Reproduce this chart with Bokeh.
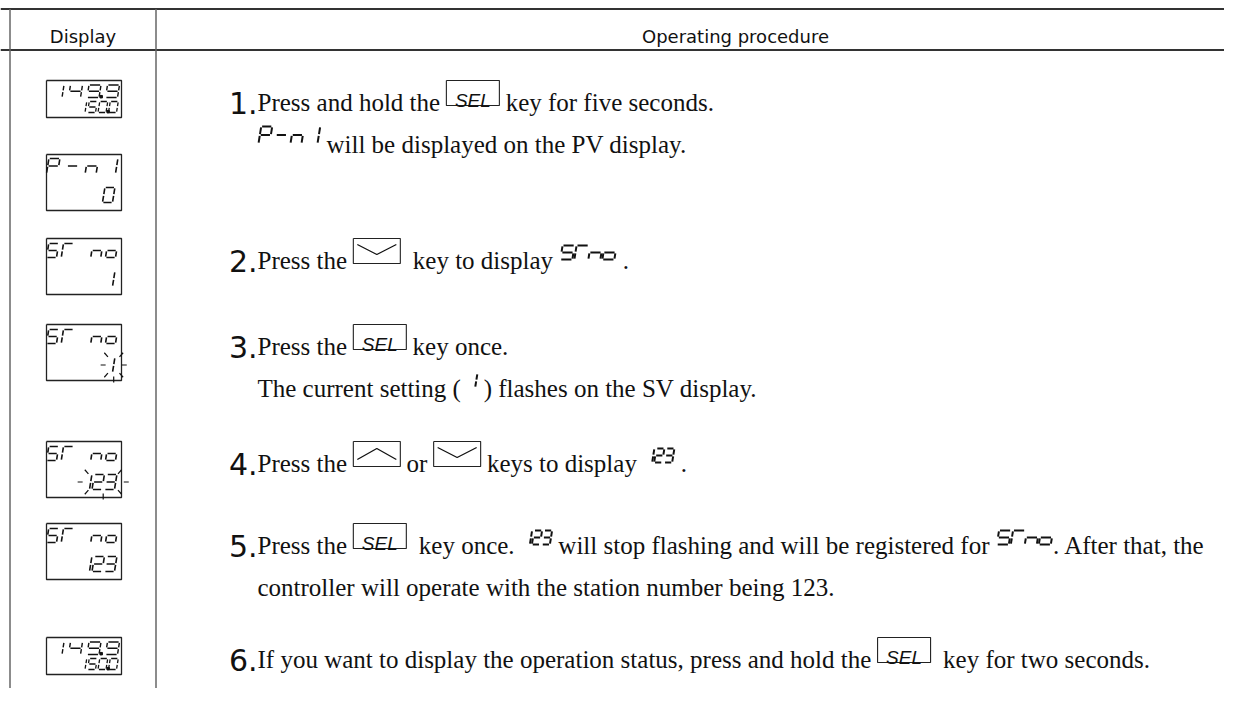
import re
from bokeh.plotting import figure
from bokeh.models import Range1d
from bokeh.embed import file_html
from bokeh.resources import INLINE
from bokeh.core.properties import value

# ---------------- data ----------------
header_labels = ["Display", "Operating procedure"]
display_upper = ["149.9", "P-n1", "5Γ no", "5Γ no", "5Γ no", "5Γ no", "149.9"]
display_lower = ["150.0", "0", "1", "1", "123", "123", "150.0"]
display_flashing = [False, False, False, True, True, False, False]
display_kind = ["pv", "tall", "tall", "tall", "tall", "tall", "pv"]
step_numbers = ["1.", "2.", "3.", "4.", "5.", "6."]
step_lines = [
    ["Press and hold the [SEL] key for five seconds.",
     "{P-n1} will be displayed on the PV display."],
    ["Press the [DOWN]  key to display {5Γno} ."],
    ["Press the [SEL] key once.",
     "The current setting ( {1} ) flashes on the SV display."],
    ["Press the [UP] or [DOWN] keys to display {123} ."],
    ["Press the [SEL]  key once. {123} will stop flashing and will be registered for {5Γno}.  After that, the",
     "controller will operate with the station number being 123."],
    ["If you want to display the operation status, press and hold the [SEL]  key for two seconds."],
]

# ---------------- layout / style ----------------
W, H = 1224, 688
TABLE_LEFT, COL_DIV = 9.5, 155.5
TOP_LINE, HEAD_LINE = 8.5, 49.5
BOX_L, BOX_R = 46, 121
box_tops = [80, 154, 238, 324, 441, 523, 637]
box_heights = {"pv": 37, "tall": 56}
step_box = [0, 2, 3, 4, 5, 6]
TEXT_X = 257
LINE_GAP = 42
BODY_FS = 25
SERIF = "Liberation Serif"
SANS = "Liberation Sans"
INK = "#111111"
SLANT = 0.16

TIMES = {' ': 250, '!': 333, '(': 333, ')': 333, ',': 250, '-': 333, '.': 250, ':': 278}
for c in '0123456789':
    TIMES[c] = 500
TIMES.update(dict(zip('ABCDEFGHIJKLMNOPQRSTUVWXYZ',
                      [722, 667, 667, 722, 611, 556, 722, 722, 333, 389, 722, 611, 889,
                       722, 722, 556, 722, 667, 556, 611, 722, 722, 944, 722, 722, 611])))
TIMES.update(dict(zip('abcdefghijklmnopqrstuvwxyz',
                      [444, 500, 444, 500, 444, 333, 500, 500, 278, 278, 500, 278, 778,
                       500, 500, 500, 500, 333, 389, 278, 500, 500, 722, 500, 500, 444])))


def tw(s, fs=BODY_FS):
    return sum(TIMES.get(c, 500) for c in s) / 1000.0 * fs


SEG = {'0': 'abcdef', '1': 'bc', '2': 'abdeg', '3': 'abcdg', '4': 'bcfg', '5': 'acdfg',
       '6': 'acdefg', '7': 'abc', '8': 'abcdefg', '9': 'abcdfg', 'P': 'abefg', '-': 'g',
       'n': 'ceg', 'o': 'cdeg', 'Γ': 'aef', ' ': ''}
SEGDEF = {'a': ((0, 0), (1, 0)), 'b': ((1, 0), (1, .5)), 'c': ((1, .5), (1, 1)),
          'd': ((0, 1), (1, 1)), 'e': ((0, .5), (0, 1)), 'f': ((0, 0), (0, .5)),
          'g': ((0, .5), (1, .5))}

p = figure(width=W, height=H, x_range=Range1d(0, W), y_range=Range1d(H, 0),
           output_backend="svg", toolbar_location=None, min_border=0)
p.axis.visible = False
p.grid.visible = False
p.outline_line_color = None
p.background_fill_color = "white"
p.border_fill_color = "white"

seg_groups = {}   # line width -> (xs, ys)
dots = ([], [])


def add_seg(lw, xs, ys):
    g = seg_groups.setdefault(lw, ([], []))
    g[0].append(xs)
    g[1].append(ys)


def draw_char(ch, x0, yb, w, h, lw, gap=0.9):
    xs_all = []
    for s in SEG.get(ch, ''):
        (u1, v1), (u2, v2) = SEGDEF[s]
        px1, py1 = u1 * w, v1 * h
        px2, py2 = u2 * w, v2 * h
        L = ((px2 - px1) ** 2 + (py2 - py1) ** 2) ** 0.5
        dx, dy = (px2 - px1) / L * gap, (py2 - py1) / L * gap
        px1, py1, px2, py2 = px1 + dx, py1 + dy, px2 - dx, py2 - dy
        xs = [x0 + px1 + SLANT * (h - py1), x0 + px2 + SLANT * (h - py2)]
        ys = [yb - h + py1, yb - h + py2]
        add_seg(lw, xs, ys)
        xs_all += xs
    return xs_all


def draw_row(text, x0, pitch, w, h, yb, lw):
    i = 0
    xs_all = []
    for ch in text:
        if ch == '.':
            dots[0].append(x0 + (i - 1) * pitch + w + 2.2)
            dots[1].append(yb - 0.8)
            continue
        xs_all += draw_char(ch, x0 + i * pitch, yb, w, h, lw)
        i += 1
    return (min(xs_all), max(xs_all)) if xs_all else (x0, x0)


def nslots(text):
    return len(text.replace('.', ''))


def rect_path(l, r, t, b):
    return [l, r, r, l, l], [t, t, b, b, t]


# ---------------- table frame ----------------
p.multi_line(xs=[[0, W], [0, W]], ys=[[TOP_LINE, TOP_LINE], [HEAD_LINE, HEAD_LINE]],
             line_color="#333333", line_width=2)
p.multi_line(xs=[[TABLE_LEFT, TABLE_LEFT], [COL_DIV, COL_DIV]], ys=[[TOP_LINE, H], [TOP_LINE, H]],
             line_color="#666666", line_width=1.5)
p.text(x=[(TABLE_LEFT + COL_DIV) / 2, 735], y=[36, 36], text=header_labels,
       text_font=value("DejaVu Sans"), text_font_size="18px", text_align="center",
       text_baseline="alphabetic", text_color=INK)

# ---------------- display boxes ----------------
box_xs, box_ys = [], []
rays_x, rays_y = [], []
for k in range(len(display_upper)):
    top = box_tops[k]
    kind = display_kind[k]
    hgt = box_heights[kind]
    bx, by = rect_path(BOX_L, BOX_R, top, top + hgt)
    box_xs.append(bx); box_ys.append(by)
    up, lo = display_upper[k], display_lower[k]
    if kind == "pv":
        pitch, w, h = 18.5, 12, 12.5
        x0 = 117 - (nslots(up) - 1) * pitch - w
        draw_row(up, x0, pitch, w, h, top + 17, 1.4)
        pitch2, w2, h2 = 10.5, 8, 11
        x02 = 116 - (nslots(lo) - 1) * pitch2 - w2
        draw_row(lo, x02, pitch2, w2, h2, top + 32, 1.3)
    else:
        n = nslots(up)
        w = 11 if n == 4 else 10
        h = 15 if n == 4 else 14
        pitch = (115 - w - 46) / (n - 1)
        draw_row(up, 46, pitch, w, h, top + 19, 1.6)
        pitch2, w2, h2 = 12.5, 10, 15
        n2 = nslots(lo)
        xr = 112 if n2 == 1 else 114
        x02 = xr - (n2 - 1) * pitch2 - w2
        yb2 = top + 48
        mn, mx = draw_row(lo, x02, pitch2, w2, h2, yb2, 1.6)
        if display_flashing[k]:
            cx = (mn + mx) / 2
            cy = yb2 - h2 / 2
            half = (mx - mn) / 2
            rxi, rxo = half + 7, half + 12
            ryi, ryo = h2 / 2 + 4, h2 / 2 + 10
            for ang in [(1, 0), (-1, 0), (0.72, -0.7), (-0.72, -0.7), (0.72, 0.7), (-0.72, 0.7), (0, 1)]:
                rays_x.append([cx + ang[0] * rxi, cx + ang[0] * rxo])
                rays_y.append([cy + ang[1] * ryi, cy + ang[1] * ryo])

p.multi_line(xs=box_xs, ys=box_ys, line_color="#222222", line_width=1.3)
if rays_x:
    p.multi_line(xs=rays_x, ys=rays_y, line_color=INK, line_width=1.2)

# ---------------- steps ----------------
INLINE_SPEC = {"P-n1": (16, 11, 17), "5Γno": (14, 12, 14), "123": (10, 8, 14), "1": (10, 7, 14)}
num_x, num_y = [], []
tx, ty, tt = [], [], []
kb_x, kb_y = [], []
sel_x, sel_y = [], []
chev_x, chev_y = [], []

for si, lines in enumerate(step_lines):
    base = box_tops[step_box[si]] + 22
    num_x.append(TEXT_X)
    num_y.append(base)
    for li, line in enumerate(lines):
        yb = base + li * LINE_GAP
        x = TEXT_X
        for piece in re.split(r'(\[[A-Z]+\]|\{[^}]+\})', line):
            if not piece:
                continue
            if piece.startswith('['):
                key = piece[1:-1]
                kw = 53 if key == "SEL" else 47
                kt, kb = yb - 22, yb + 3
                bx, by = rect_path(x, x + kw, kt, kb)
                kb_x.append(bx); kb_y.append(by)
                if key == "SEL":
                    sel_x.append(x + kw / 2); sel_y.append(kb - 5)
                elif key == "DOWN":
                    chev_x.append([x + 4, x + kw / 2, x + kw - 4]); chev_y.append([kt + 6, kt + 16, kt + 6])
                else:
                    chev_x.append([x + 4, x + kw / 2, x + kw - 4]); chev_y.append([kt + 18, kt + 7, kt + 18])
                x += kw
            elif piece.startswith('{'):
                g = piece[1:-1]
                pitch, w, h = INLINE_SPEC[g]
                draw_row(g, x + 1, pitch, w, h, yb - 1, 2.0)
                x += (nslots(g) - 1) * pitch + w + SLANT * h + 1
            else:
                lead = len(piece) - len(piece.lstrip(' '))
                s = piece.strip(' ')
                if s:
                    tx.append(x + tw(' ' * lead)); ty.append(yb); tt.append(s)
                x += tw(piece)

p.text(x=num_x, y=num_y, text=step_numbers, text_font=value("DejaVu Sans"), text_font_size="30px",
       text_align="right", text_baseline="alphabetic", text_color=INK)
p.text(x=tx, y=ty, text=tt, text_font=value(SERIF), text_font_size="%dpx" % BODY_FS,
       text_align="left", text_baseline="alphabetic", text_color=INK)
p.multi_line(xs=kb_x, ys=kb_y, line_color="#222222", line_width=1.1)
p.text(x=sel_x, y=sel_y, text=["SEL"] * len(sel_x), text_font=value(SANS), text_font_style="italic",
       text_font_size="19px", text_align="center", text_baseline="alphabetic", text_color=INK)
p.multi_line(xs=chev_x, ys=chev_y, line_color=INK, line_width=1.3)

for lw, (xs, ys) in seg_groups.items():
    p.multi_line(xs=xs, ys=ys, line_color=INK, line_width=lw)
p.scatter(x=dots[0], y=dots[1], marker="square", size=2.5, fill_color=INK, line_color=INK)

open("out.html", "w").write(file_html(p, INLINE))
